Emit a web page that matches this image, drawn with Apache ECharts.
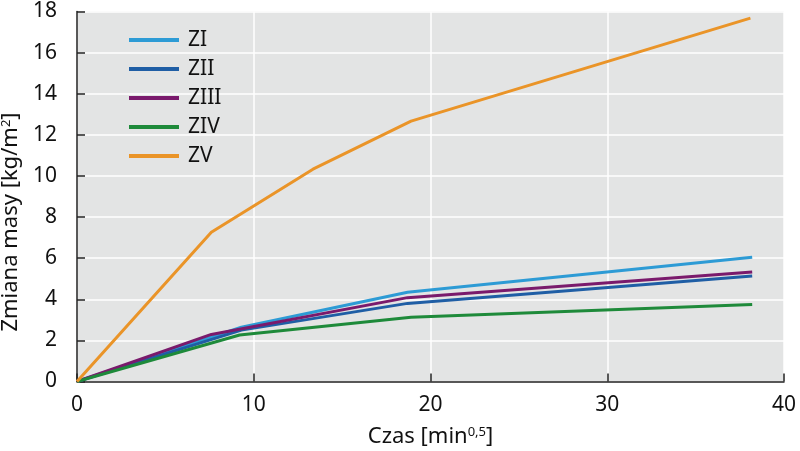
<!DOCTYPE html>
<html>
<head>
<meta charset="utf-8">
<script src="https://cdn.jsdelivr.net/npm/echarts@6/dist/echarts.min.js"></script>
<style>
  html, body { margin: 0; padding: 0; background: #fff; }
  #chart { width: 800px; height: 451px; }
</style>
</head>
<body>
<div id="chart"></div>
<script>
// dane: [czas, zmiana masy]
const seriesNames = ['ZI', 'ZII', 'ZIII', 'ZIV', 'ZV'];
const zI   = [[0, 0], [9.3, 2.64], [18.7, 4.34], [38.2, 6.04]];
const zII  = [[0, 0], [9.3, 2.5], [18.7, 3.8], [38.2, 5.13]];
const zIII = [[0, 0], [7.6, 2.29], [18.7, 4.08], [38.2, 5.33]];
const zIV  = [[0, 0], [9.2, 2.26], [18.9, 3.12], [38.2, 3.74]];
const zV   = [[0, 0], [7.6, 7.26], [13.35, 10.33], [18.9, 12.67], [38.1, 17.68]];
const colors = ['#2d9bd5', '#1f5ea5', '#7a1a6c', '#1e8a3a', '#ea9428'];

const font = "'Noto Sans', 'Liberation Sans', sans-serif";

const chart = echarts.init(document.getElementById('chart'));

const supStyle = { fontSize: 13, verticalAlign: 'top', padding: [0, 0, 10, 0], color: '#111', fontFamily: font };

const option = {
  animation: false,
  textStyle: { fontFamily: font },
  grid: {
    left: 77,
    right: 16,
    top: 11.5,
    bottom: 69.5,
    outerBoundsMode: 'none',
    containLabel: false,
    show: true,
    backgroundColor: '#e3e4e4',
    borderWidth: 0
  },
  legend: {
    orient: 'vertical',
    left: 124,
    top: 24,
    icon: 'rect',
    itemWidth: 50,
    itemHeight: 4,
    itemGap: 7,
    textStyle: {
      fontFamily: font,
      fontSize: 21,
      color: '#111',
      lineHeight: 22,
      padding: [0, 0, 0, 4]
    },
    data: seriesNames
  },
  xAxis: {
    type: 'value',
    min: 0,
    max: 40,
    interval: 10,
    name: 'Czas [min{sup|0,5}]',
    nameLocation: 'middle',
    nameGap: 44,
    nameTextStyle: {
      fontFamily: font,
      fontSize: 22,
      color: '#111',
      rich: { sup: supStyle }
    },
    axisLine: { show: true, lineStyle: { color: '#222', width: 1.5 } },
    axisTick: { show: true, inside: true, length: 8, lineStyle: { color: '#222', width: 1.5 } },
    axisLabel: { fontSize: 21, color: '#111', margin: 13, fontFamily: font },
    splitLine: { show: true, lineStyle: { color: '#ffffff', width: 1.5 } }
  },
  yAxis: {
    type: 'value',
    min: 0,
    max: 18,
    interval: 2,
    name: 'Zmiana masy [kg/m{sup|2}]',
    nameLocation: 'middle',
    nameGap: 50,
    nameTextStyle: {
      fontFamily: font,
      fontSize: 22,
      color: '#111',
      padding: [0, 0, 0, -51],
      rich: { sup: supStyle }
    },
    axisLine: { show: true, lineStyle: { color: '#222', width: 1.5 } },
    axisTick: { show: true, inside: true, length: 8, lineStyle: { color: '#222', width: 1.5 } },
    axisLabel: { fontSize: 21, color: '#111', margin: 20, fontFamily: font },
    splitLine: { show: true, lineStyle: { color: '#ffffff', width: 1.5 } }
  },
  series: [zI, zII, zIII, zIV, zV].map((d, i) => ({
    name: seriesNames[i],
    type: 'line',
    data: d,
    showSymbol: false,
    symbol: 'none',
    lineStyle: { color: colors[i], width: 3 },
    itemStyle: { color: colors[i] }
  }))
};

chart.setOption(option);
</script>
</body>
</html>
